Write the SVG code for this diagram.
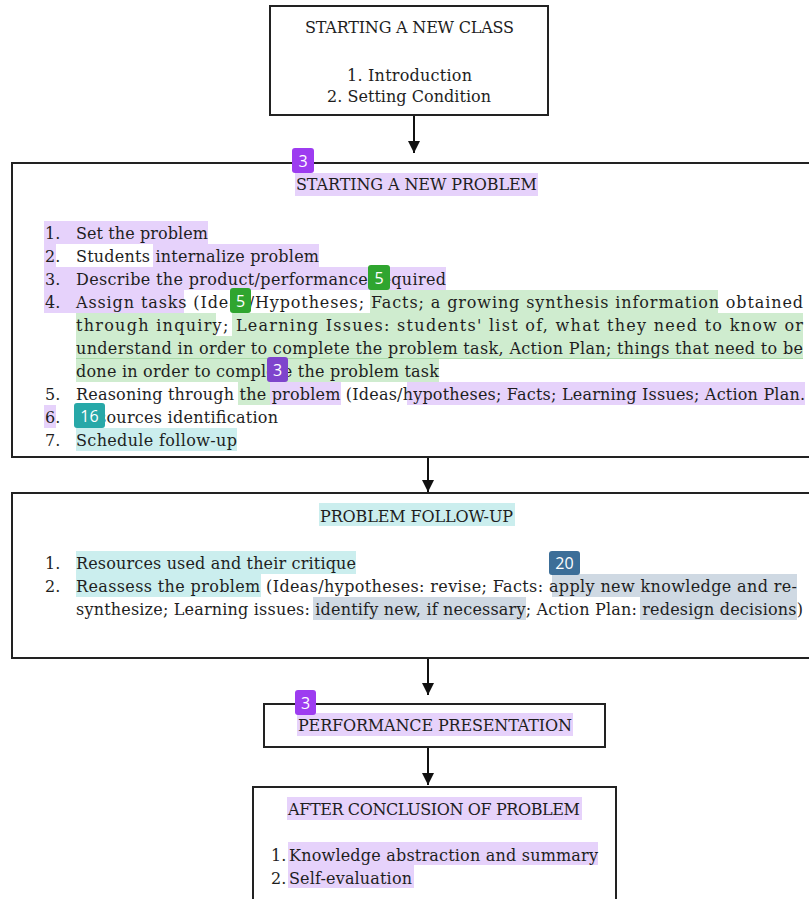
<svg xmlns="http://www.w3.org/2000/svg" width="809" height="899" viewBox="0 0 809 899">
<style>
.box{fill:#fff;stroke:#222;stroke-width:2}
.t{font-family:"DejaVu Serif","Liberation Serif",serif;font-size:16px;fill:#1e1e1e}
.hp{fill:#e6d2fb}.hg{fill:#cfeccf}.hc{fill:#cbeeee}.hb{fill:#cfd9e3}
.bt{font-family:"Open Sans","Noto Sans",sans-serif;font-size:16px;fill:#fff;text-anchor:middle}
.conn{stroke:#111;stroke-width:2;fill:none}
</style>
<defs>
<marker id="ah" viewBox="0 0 10 10" refX="10" refY="5" markerWidth="6" markerHeight="6" orient="auto" markerUnits="strokeWidth">
<path d="M0,0 L10,5 L0,10 z" fill="#111"/>
</marker>
</defs>
<rect width="809" height="899" fill="#fff"/>

<g id="connectors">
<line class="conn" x1="414" y1="115" x2="414" y2="153" marker-end="url(#ah)"/>
<line class="conn" x1="428" y1="457" x2="428" y2="492" marker-end="url(#ah)"/>
<line class="conn" x1="428" y1="658" x2="428" y2="695" marker-end="url(#ah)"/>
<line class="conn" x1="428" y1="747" x2="428" y2="785" marker-end="url(#ah)"/>
</g>

<g id="node-starting-class">
<rect class="box" x="270" y="6" width="278" height="109"/>
<text class="t" x="305" y="33" textLength="209">STARTING A NEW CLASS</text>
<text class="t" x="347" y="81" textLength="125">1. Introduction</text>
<text class="t" x="327" y="102" textLength="164">2. Setting Condition</text>
</g>

<g id="node-starting-problem">
<rect class="box" x="12" y="163" width="810" height="294"/>
<rect class="hp" x="295" y="173" width="243" height="23"/>
<rect class="hp" x="44" y="221" width="164" height="23"/>
<rect class="hp" x="44" y="244" width="12" height="23"/>
<rect class="hp" x="153" y="244" width="166" height="23"/>
<rect class="hp" x="44" y="267" width="402" height="23"/>
<rect class="hp" x="44" y="290" width="140" height="23"/>
<rect class="hg" x="370" y="290" width="348" height="23"/>
<rect class="hg" x="76" y="313" width="140" height="23"/>
<rect class="hg" x="232" y="313" width="571" height="23"/>
<rect class="hg" x="76" y="336" width="727" height="23"/>
<line x1="76" y1="358.5" x2="803" y2="358.5" stroke="#a9dba9" stroke-width="1"/>
<rect class="hg" x="76" y="359" width="363" height="23"/>
<rect class="hg" x="238" y="382" width="32" height="23"/>
<rect class="hp" x="270" y="382" width="71" height="23"/>
<rect class="hp" x="407" y="382" width="398" height="23"/>
<rect class="hp" x="44" y="405" width="12" height="23"/>
<rect class="hc" x="76" y="428" width="161" height="23"/>
<text class="t" x="296" y="190" textLength="241">STARTING A NEW PROBLEM</text>
<text class="t" x="45" y="239">1.</text><text class="t" x="76" y="239" textLength="132">Set the problem</text>
<text class="t" x="45" y="262">2.</text><text class="t" x="76" y="262" textLength="243">Students internalize problem</text>
<text class="t" x="45" y="285">3.</text><text class="t" x="76" y="285" textLength="370">Describe the product/performance required</text>
<text class="t" x="45" y="308">4.</text><text class="t" x="76" y="308" textLength="727" lengthAdjust="spacing">Assign tasks (Ideas/Hypotheses; Facts; a growing synthesis information obtained</text>
<text class="t" x="76" y="331" textLength="727" lengthAdjust="spacing">through inquiry; Learning Issues: students' list of, what they need to know or</text>
<text class="t" x="76" y="354" textLength="727" lengthAdjust="spacing">understand in order to complete the problem task, Action Plan; things that need to be</text>
<text class="t" x="76" y="377" textLength="363">done in order to complete the problem task</text>
<text class="t" x="45" y="400">5.</text><text class="t" x="76" y="400" textLength="729" lengthAdjust="spacing">Reasoning through the problem (Ideas/hypotheses; Facts; Learning Issues; Action Plan.</text>
<text class="t" x="45" y="423">6.</text><text class="t" x="76" y="423" textLength="202">Resources identification</text>
<text class="t" x="45" y="446">7.</text><text class="t" x="76" y="446" textLength="161">Schedule follow-up</text>
<rect x="292" y="148" width="22" height="25" rx="3" fill="#9d3cf0"/><text class="bt" x="303" y="166.5">3</text>
<rect x="368" y="265" width="22" height="25" rx="3" fill="#2fa52f"/><text class="bt" x="379" y="283.5">5</text>
<rect x="230" y="288" width="21" height="25" rx="3" fill="#2fa52f"/><text class="bt" x="240.5" y="306.5">5</text>
<rect x="267" y="357" width="21" height="25" rx="3" fill="#7e44cc"/><text class="bt" x="277.5" y="375.5">3</text>
<rect x="74" y="403" width="31" height="25" rx="3" fill="#27a8a8"/><text class="bt" x="89.5" y="421.5">16</text>
</g>

<g id="node-problem-followup">
<rect class="box" x="12" y="493" width="810" height="165"/>
<rect class="hc" x="319" y="503" width="196" height="23"/>
<rect class="hc" x="76" y="551" width="280" height="23"/>
<rect class="hc" x="76" y="574" width="185" height="23"/>
<rect class="hb" x="552" y="574" width="245" height="23"/>
<rect class="hb" x="313" y="597" width="213" height="23"/>
<rect class="hb" x="640" y="597" width="157" height="23"/>
<text class="t" x="320" y="522" textLength="193">PROBLEM FOLLOW-UP</text>
<text class="t" x="45" y="569">1.</text><text class="t" x="76" y="569" textLength="280">Resources used and their critique</text>
<text class="t" x="45" y="592">2.</text><text class="t" x="76" y="592" textLength="721" lengthAdjust="spacing">Reassess the problem (Ideas/hypotheses: revise; Facts: apply new knowledge and re-</text>
<text class="t" x="76" y="615" textLength="727" lengthAdjust="spacing">synthesize; Learning issues: identify new, if necessary; Action Plan: redesign decisions)</text>
<rect x="549" y="551" width="31" height="24" rx="3" fill="#3c6e98"/><text class="bt" x="564.5" y="569">20</text>
</g>

<g id="node-performance">
<rect class="box" x="264" y="704" width="341" height="43"/>
<rect class="hp" x="297" y="713" width="276" height="23"/>
<text class="t" x="298" y="731" textLength="274">PERFORMANCE PRESENTATION</text>
<rect x="295" y="690" width="21" height="25" rx="3" fill="#9d3cf0"/><text class="bt" x="305.5" y="708.5">3</text>
</g>

<g id="node-after-conclusion">
<rect class="box" x="253" y="787" width="363" height="130"/>
<rect class="hp" x="287" y="797" width="295" height="23"/>
<rect class="hp" x="288" y="842" width="310" height="23"/>
<rect class="hp" x="288" y="865" width="126" height="23"/>
<text class="t" x="288" y="815" textLength="292">AFTER CONCLUSION OF PROBLEM</text>
<text class="t" x="271" y="861">1.</text><text class="t" x="289" y="861" textLength="309">Knowledge abstraction and summary</text>
<text class="t" x="271" y="884">2.</text><text class="t" x="289" y="884" textLength="123">Self-evaluation</text>
</g>
</svg>
